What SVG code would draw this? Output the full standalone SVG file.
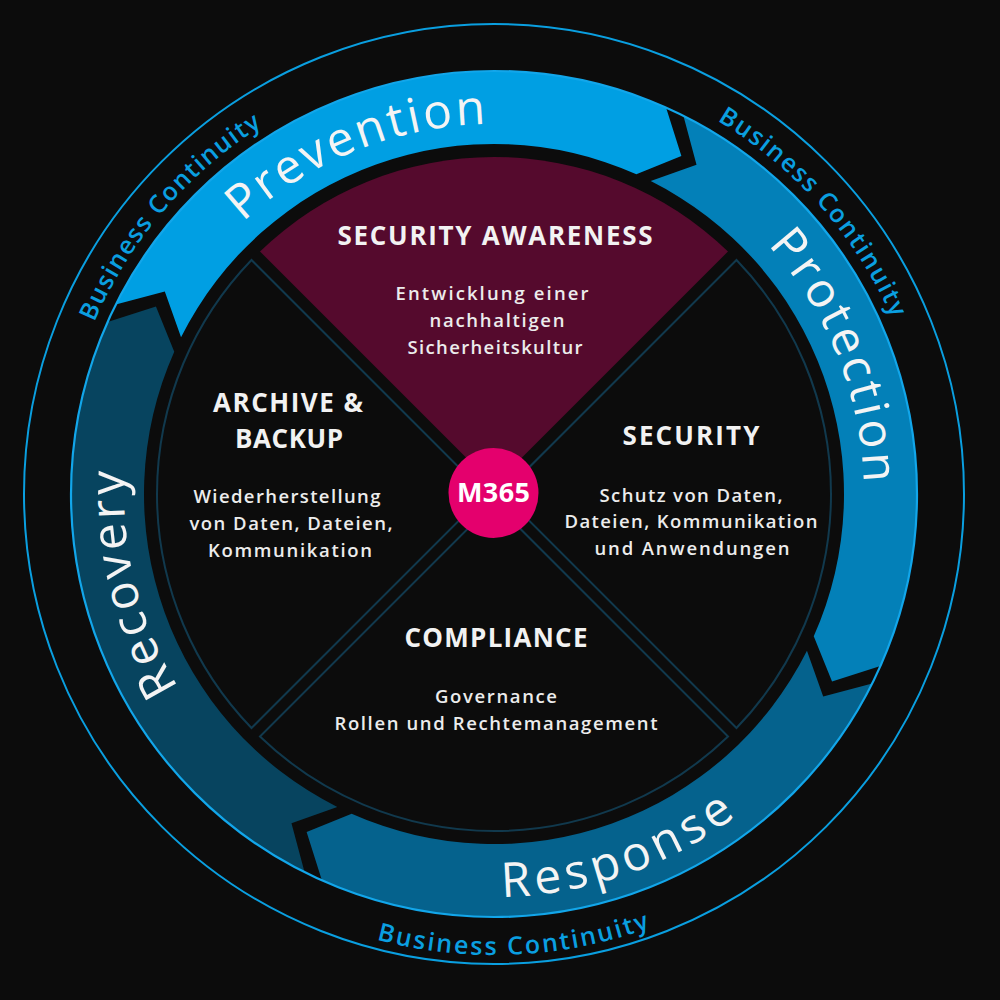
<svg xmlns="http://www.w3.org/2000/svg" width="1000" height="1000" viewBox="0 0 1000 1000">
<defs>
<style>
.bg{fill:#0c0c0c}
.ring{fill:none;stroke:#0a9fe0;stroke-width:2}
.edge{fill:none;stroke:#12a6ea;stroke-width:2.2}
.bc{font-family:"Open Sans","Liberation Sans",sans-serif;font-weight:600;font-size:25px;fill:#0a9fe0}
.band{font-family:"Open Sans","Liberation Sans",sans-serif;font-weight:400;font-size:48px;fill:#f4f4f4}
.sector{fill:#0c0c0c;stroke:#11394d;stroke-width:2}
.sector-sa{fill:#550a2d}
.title{font-family:"Open Sans","Liberation Sans",sans-serif;font-weight:700;font-size:26px;fill:#f2f2f2;text-anchor:middle}
.sub{font-family:"Open Sans","Liberation Sans",sans-serif;font-weight:600;font-size:18.5px;fill:#ececec;text-anchor:middle}
.hub{fill:#e4006d}
.hubt{font-family:"Open Sans","Liberation Sans",sans-serif;font-weight:700;font-size:27px;fill:#ffffff;text-anchor:middle}
</style>
<path id="tp-prev" d="M132.08 570.93 A370 370 0 0 1 807.78 297.93"/>
<path id="tp-prot" d="M417.07 132.08 A370 370 0 0 1 690.07 807.78"/>
<path id="tp-reco" d="M519.81 863.10 A370 370 0 0 1 343.51 155.99"/>
<path id="tp-resp" d="M141.53 689.38 A403 403 0 0 0 892.04 430.96"/>
<path id="tp-bc1" d="M158.35 770.69 A435 435 0 0 1 714.78 119.19"/>
<path id="tp-bc2" d="M266.71 123.10 A435 435 0 0 1 834.44 764.79"/>
<path id="tp-bc3" d="M43.93 593.78 A461 461 0 0 0 951.05 554.17"/>
</defs>
<rect class="bg" x="0" y="0" width="1000" height="1000"/>

<g id="outer-ring">
<circle class="ring" cx="494" cy="494" r="470"/>
</g>

<g id="business-continuity">
<text class="bc"><textPath href="#tp-bc1" startOffset="50%" text-anchor="middle" textLength="262" lengthAdjust="spacing">Business Continuity</textPath></text>
<text class="bc"><textPath href="#tp-bc2" startOffset="50%" text-anchor="middle" textLength="268" lengthAdjust="spacing">Business Continuity</textPath></text>
<text class="bc"><textPath href="#tp-bc3" startOffset="50%" text-anchor="middle" textLength="278" lengthAdjust="spacing">Business Continuity</textPath></text>
</g>

<g id="cycle">
<g id="prevention">
<path fill="#009fe3" d="M115.77 304.60 A423 423 0 0 1 666.05 107.57 L681.38 155.96 L636.36 174.26 A350 350 0 0 0 181.05 337.28 L164.81 291.48 Z"/>
<text class="band"><textPath href="#tp-prev" startOffset="50%" text-anchor="middle" textLength="268" lengthAdjust="spacing">Prevention</textPath></text>
</g>
<g id="protection">
<path fill="#0380b8" d="M683.40 115.77 A423 423 0 0 1 880.43 666.05 L832.04 681.38 L813.74 636.36 A350 350 0 0 0 650.72 181.05 L696.52 164.81 Z"/>
<text class="band"><textPath href="#tp-prot" startOffset="50%" text-anchor="middle" textLength="262" lengthAdjust="spacing">Protection</textPath></text>
</g>
<g id="response">
<path fill="#05628d" d="M872.23 683.40 A423 423 0 0 1 321.95 880.43 L306.62 832.04 L351.64 813.74 A350 350 0 0 0 806.95 650.72 L823.19 696.52 Z"/>
<text class="band"><textPath href="#tp-resp" startOffset="50%" text-anchor="middle" textLength="252" lengthAdjust="spacing">Response</textPath></text>
</g>
<g id="recovery">
<path fill="#07445f" d="M304.60 872.23 A423 423 0 0 1 107.57 321.95 L155.96 306.62 L174.26 351.64 A350 350 0 0 0 337.28 806.95 L291.48 823.19 Z"/>
<text class="band"><textPath href="#tp-reco" startOffset="50%" text-anchor="middle" textLength="226" lengthAdjust="spacing">Recovery</textPath></text>
</g>
<circle class="edge" cx="494" cy="494" r="423"/>
</g>

<g id="security-awareness">
<path class="sector-sa" d="M494 485.51 L259.98 251.5 A337 337 0 0 1 728.02 251.5 Z"/>
<text class="title" x="495" y="245" textLength="315" lengthAdjust="spacing">SECURITY AWARENESS</text>
<text class="sub" x="492" y="300" textLength="193" lengthAdjust="spacing">Entwicklung einer</text>
<text class="sub" x="497" y="327" textLength="135" lengthAdjust="spacing">nachhaltigen</text>
<text class="sub" x="495" y="354" textLength="175" lengthAdjust="spacing">Sicherheitskultur</text>
</g>

<g id="security">
<path class="sector" d="M502.49 494 L736.5 259.98 A337 337 0 0 1 736.5 728.02 Z"/>
<text class="title" x="691" y="445" textLength="137" lengthAdjust="spacing">SECURITY</text>
<text class="sub" x="691" y="502" textLength="183" lengthAdjust="spacing">Schutz von Daten,</text>
<text class="sub" x="691" y="528" textLength="253" lengthAdjust="spacing">Dateien, Kommunikation</text>
<text class="sub" x="692" y="555" textLength="195" lengthAdjust="spacing">und Anwendungen</text>
</g>

<g id="compliance">
<path class="sector" d="M494 502.49 L728.02 736.5 A337 337 0 0 1 259.98 736.5 Z"/>
<text class="title" x="496" y="647" textLength="183" lengthAdjust="spacing">COMPLIANCE</text>
<text class="sub" x="496" y="703" textLength="122" lengthAdjust="spacing">Governance</text>
<text class="sub" x="496" y="730" textLength="323" lengthAdjust="spacing">Rollen und Rechtemanagement</text>
</g>

<g id="archive-backup">
<path class="sector" d="M485.51 494 L251.5 728.02 A337 337 0 0 1 251.5 259.98 Z"/>
<text class="title" x="288" y="412" textLength="150" lengthAdjust="spacing">ARCHIVE &amp;</text>
<text class="title" x="289" y="448" textLength="108" lengthAdjust="spacing">BACKUP</text>
<text class="sub" x="287" y="503" textLength="187" lengthAdjust="spacing">Wiederherstellung</text>
<text class="sub" x="291" y="530" textLength="203" lengthAdjust="spacing">von Daten, Dateien,</text>
<text class="sub" x="290" y="557" textLength="164" lengthAdjust="spacing">Kommunikation</text>
</g>

<g id="m365">
<circle class="hub" cx="493.5" cy="493" r="45"/>
<text class="hubt" x="493.5" y="502" textLength="73" lengthAdjust="spacing">M365</text>
</g>
</svg>
